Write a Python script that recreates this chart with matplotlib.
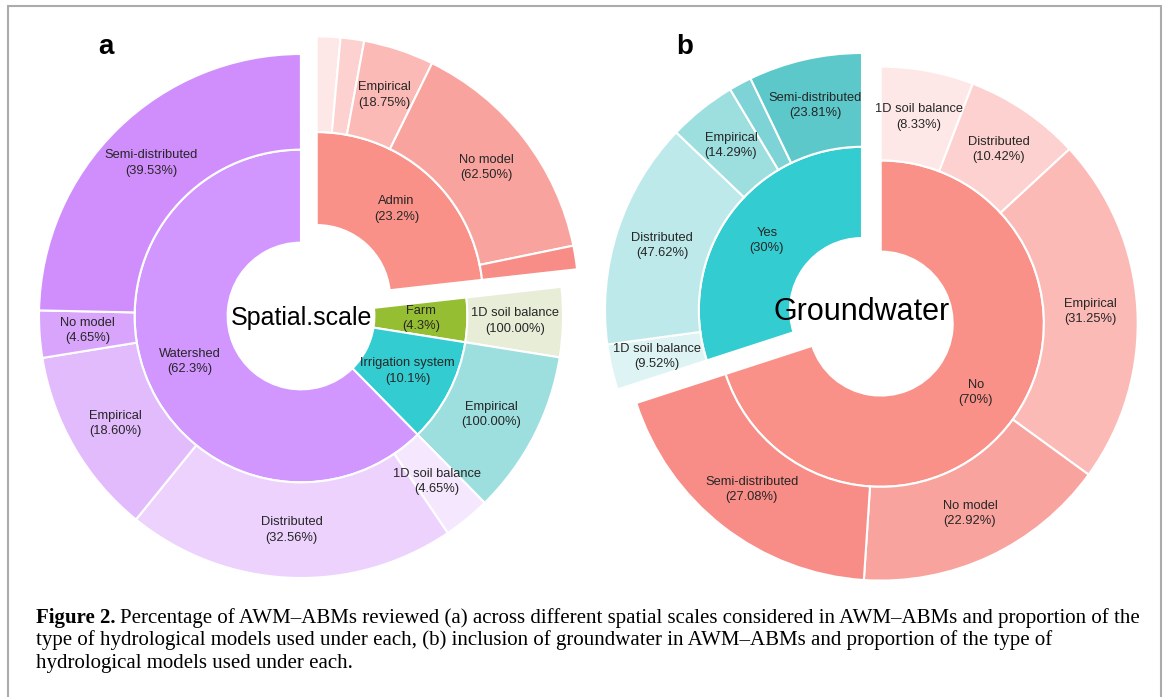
import numpy as np
import matplotlib
matplotlib.use("Agg")
import matplotlib.pyplot as plt
import matplotlib.colors as mcolors
from matplotlib.patches import Rectangle

W, H = 1169, 697

# panel a - spatial scale of the AWM-ABMs
scale_names = ["Admin", "Farm", "Irrigation system", "Watershed"]
scale_pct = [23.2, 4.3, 10.1, 62.3]
model_names = ["1D soil balance", "Distributed", "Empirical", "No model", "Semi-distributed"]
admin_models = [6.25, 6.25, 18.75, 62.50, 6.25]
farm_models = [100.0, 0, 0, 0, 0]
irrigation_models = [0, 0, 100.0, 0, 0]
watershed_models = [4.65, 32.56, 18.60, 4.65, 39.53]

# panel b - groundwater included or not
gw_names = ["No", "Yes"]
gw_pct = [70, 30]
gw_no_models = [8.33, 10.42, 31.25, 22.92, 27.08]
gw_yes_models = [9.52, 47.62, 14.29, 4.76, 23.81]

caption_bold = "Figure 2."
caption_lines = [
    "Percentage of AWM\u2013ABMs reviewed (a) across different spatial scales considered in AWM\u2013ABMs and proportion of the",
    "type of hydrological models used under each, (b) inclusion of groundwater in AWM\u2013ABMs and proportion of the type of",
    "hydrological models used under each.",
]

# inner pie colours and the (slightly different) full-strength donut colours
scale_colors = ["#F99189", "#96BE33", "#33CCD0", "#D296FF"]
scale_donut = ["#F88C86", "#8CA53C", "#5CC8CA", "#CF8EFB"]
gw_colors = ["#F99189", "#33CCD0"]
gw_donut = ["#F88C86", "#5CC8CA"]
level_alpha = [0.2, 0.4, 0.6, 0.8, 1.0]

plt.rcParams["font.family"] = ["Liberation Sans", "DejaVu Sans"]
LABEL_FS = 9.3
TXT = "#262626"


def tint(c, a):
    rgb = np.array(mcolors.to_rgb(c))
    return tuple(1 - a * (1 - rgb))


def piedonut(ax, cx, cy, R, names, pct, models, inner_cols, donut_cols, title, title_fs):
    cy = H - cy
    pct = np.asarray(pct, float)
    frac = pct / pct.sum()
    r0, r1 = 0.28 * R, 0.635 * R
    tp = dict(ha="center", va="center", fontsize=LABEL_FS, color=TXT, linespacing=1.35)
    start = 90.0
    for i in range(len(names)):
        span = frac[i] * 360
        mid = np.deg2rad(start - span / 2)
        pull = 0.09 * R if i == 0 else 0.0
        c = (cx + pull * np.cos(mid), cy + pull * np.sin(mid))
        ax.pie([frac[i]], radius=r1, center=c, startangle=start, counterclock=False,
               normalize=False, colors=[inner_cols[i]],
               labels=["%s\n(%g%%)" % (names[i], pct[i])],
               labeldistance=(r0 + r1) / 2 / r1,
               wedgeprops=dict(width=r1 - r0, edgecolor="white", linewidth=1.5),
               textprops=tp)
        sub = np.asarray(models[i], float)
        keep = sub > 0
        vals = sub[keep] / 100 * frac[i]
        labs = []
        for n, v in zip(np.array(model_names)[keep], sub[keep]):
            labs.append("%s\n(%.2f%%)" % (n, v) if v / 100 * frac[i] > 0.02 else "")
        cols = [tint(donut_cols[i], a) for a, k in zip(level_alpha, keep) if k]
        ax.pie(vals, radius=R, center=c, startangle=start, counterclock=False,
               normalize=False, colors=cols, labels=labs,
               labeldistance=(r1 + R) / 2 / R,
               wedgeprops=dict(width=R - r1, edgecolor="white", linewidth=1.5),
               textprops=tp)
        start -= span
    ax.text(cx, cy - 2, title, ha="center", va="center", fontsize=title_fs, color="black")


fig = plt.figure(figsize=(W / 100, H / 100), dpi=100)
ax = fig.add_axes([0, 0, 1, 1])

piedonut(ax, 301, 316, 262, scale_names, scale_pct,
         [admin_models, farm_models, irrigation_models, watershed_models],
         scale_colors, scale_donut, "Spatial.scale", 18)
piedonut(ax, 862, 310, 257, gw_names, gw_pct, [gw_no_models, gw_yes_models],
         gw_colors, gw_donut, "Groundwater", 22)

ax.text(106, H - 47, "a", fontsize=20, fontweight="bold", ha="center", va="center")
ax.text(685, H - 47, "b", fontsize=20, fontweight="bold", ha="center", va="center")

# frame round the figure, open at the bottom
ax.add_patch(Rectangle((8, -20), 1153, H - 6 + 20, fill=False, ec="#ABABAB", lw=1.5))

ax.set_xlim(0, W)
ax.set_ylim(0, H)
ax.set_aspect("auto")
ax.axis("off")

# caption
cap_fs = 15
serif = ["Liberation Serif", "DejaVu Serif"]
base_y = [623, 645.5, 668]
t0 = fig.text(36 / W, 1 - base_y[0] / H, caption_bold, fontsize=cap_fs, fontweight="bold",
              family=serif, va="baseline")
fig.canvas.draw()
bb = t0.get_window_extent(fig.canvas.get_renderer())
fig.text((bb.x1 + 5) / W, 1 - base_y[0] / H, caption_lines[0], fontsize=cap_fs,
         family=serif, va="baseline")
for line, y in zip(caption_lines[1:], base_y[1:]):
    fig.text(36 / W, 1 - y / H, line, fontsize=cap_fs, family=serif, va="baseline")

fig.savefig("out.png", dpi=100)
